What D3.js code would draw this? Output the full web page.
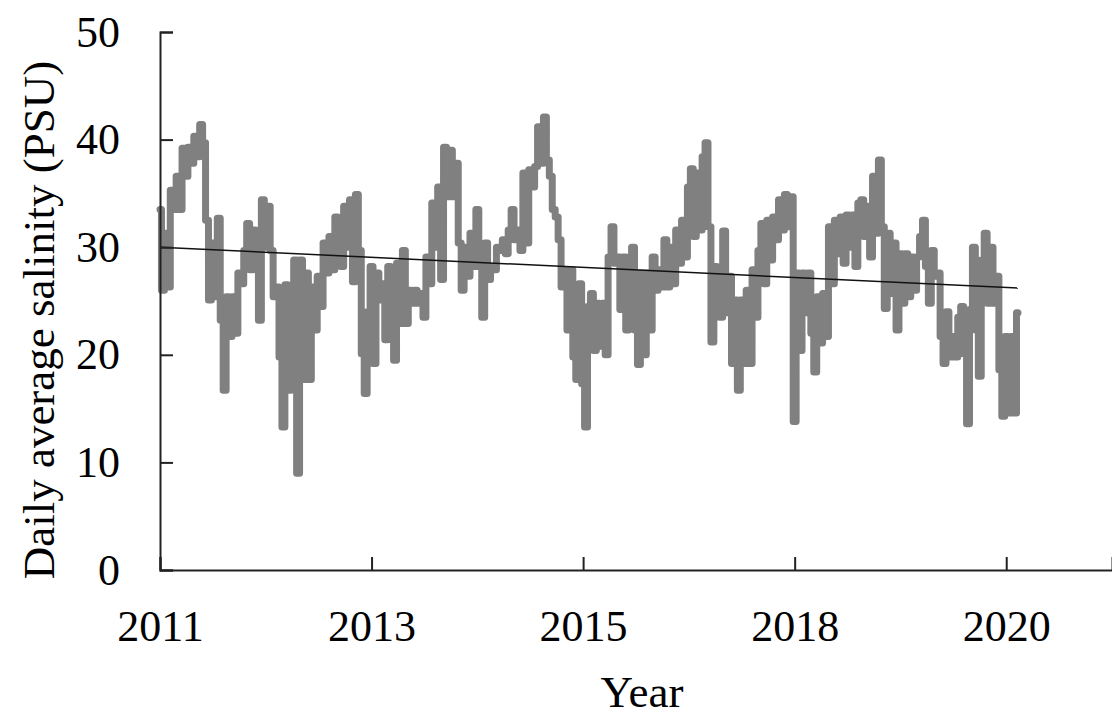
<!DOCTYPE html>
<html>
<head>
<meta charset="utf-8">
<script src="https://cdn.jsdelivr.net/npm/d3@7/dist/d3.min.js"></script>
<style>
  html, body { margin: 0; padding: 0; background: #fff; }
  svg { display: block; }
  text { font-family: "Liberation Serif", "Times New Roman", serif; fill: #000; }
</style>
</head>
<body>
<svg id="chart" width="1112" height="717"></svg>
<script>
// Tick positions (sample index) and their year labels
const tickIndex = [0, 72, 144, 216, 288];
const tickLabels = ["2011", "2013", "2015", "2018", "2020"];
const yTicks = [0, 10, 20, 30, 40, 50];

// Daily average salinity (PSU), sampled along the record
const salinity = [
  33.5, 26.0, 31.3, 26.3, 35.3, 33.5, 36.6, 33.5, 39.2, 36.6,
  39.3, 37.8, 40.3, 38.4, 41.4, 39.7, 32.5, 25.1, 30.4, 25.4,
  32.7, 23.2, 16.7, 25.4, 21.7, 25.4, 22.0, 27.6, 26.6, 29.7,
  32.2, 27.9, 31.6, 28.5, 23.2, 34.4, 30.0, 33.8, 29.7, 25.4,
  26.3, 19.8, 13.3, 26.5, 16.7, 26.0, 28.8, 9.0, 28.8, 17.7,
  27.6, 17.7, 26.3, 22.3, 27.3, 24.5, 30.4, 27.6, 31.0, 27.9,
  32.8, 29.4, 28.2, 33.8, 30.0, 34.4, 26.8, 34.9, 29.7, 20.1,
  16.4, 24.0, 28.2, 19.2, 27.6, 25.1, 26.6, 21.4, 28.2, 22.0,
  19.5, 28.5, 22.9, 29.7, 22.9, 26.0, 24.8, 26.0, 24.8, 25.7,
  23.5, 29.1, 26.6, 34.1, 30.0, 35.6, 27.0, 39.3, 34.7, 39.0,
  34.7, 37.8, 30.4, 26.0, 30.0, 27.3, 31.3, 28.2, 33.5, 28.2,
  23.5, 30.4, 27.0, 28.2, 27.9, 30.0, 29.7, 30.7, 29.4, 31.6,
  33.5, 30.7, 31.6, 29.7, 36.9, 30.4, 37.2, 35.6, 37.5, 41.2,
  37.8, 42.1, 38.1, 36.6, 33.5, 32.8, 30.7, 26.3, 27.9, 22.3,
  27.9, 19.8, 17.7, 26.6, 17.3, 13.3, 24.5, 25.7, 20.4, 24.8,
  20.8, 24.8, 20.0, 29.1, 31.9, 28.5, 29.1, 24.2, 29.1, 22.3,
  29.1, 30.0, 22.3, 19.1, 27.6, 20.0, 27.6, 22.3, 29.1, 26.0,
  27.9, 26.3, 30.7, 26.3, 30.0, 26.6, 31.6, 28.5, 32.5, 29.1,
  35.6, 37.3, 31.0, 36.9, 31.6, 38.4, 39.7, 31.9, 21.2, 28.2,
  26.6, 23.5, 31.5, 23.9, 27.3, 19.2, 25.1, 16.7, 25.1, 19.2,
  26.0, 19.2, 27.9, 23.5, 29.7, 32.2, 26.6, 32.5, 28.8, 32.8,
  30.7, 34.4, 31.6, 34.9, 31.9, 34.7, 13.8, 27.6, 20.4, 27.6,
  23.9, 27.6, 22.0, 18.4, 25.4, 21.1, 25.7, 21.7, 31.9, 26.6,
  32.5, 29.4, 32.8, 28.5, 33.0, 30.0, 33.0, 28.2, 34.1, 34.4,
  31.0, 33.8, 29.1, 36.6, 31.3, 38.1, 31.9, 24.3, 31.3, 25.7,
  30.4, 22.3, 29.4, 24.8, 29.4, 25.4, 29.1, 26.0, 29.1, 31.0,
  32.5, 28.2, 24.8, 29.7, 27.3, 27.6, 21.7, 19.2, 24.0, 19.8,
  21.7, 19.8, 23.5, 24.5, 20.1, 13.6, 24.2, 30.0, 22.3, 18.0,
  28.8, 31.3, 24.8, 30.0, 24.8, 27.3, 18.6, 14.3, 21.7, 14.6,
  21.7, 14.6, 23.9
];

// Linear trend: value at the first and the last sample
const trendEnds = [30.0, 26.2];

const svg = d3.select("#chart");
const plotLeft = 160, plotRight = 1112, plotTop = 32, plotBottom = 570;

const x = d3.scaleLinear().domain([0, 324]).range([plotLeft, plotRight]);
const y = d3.scaleLinear().domain([0, 50]).range([plotBottom, plotTop]);

// Salinity series, drawn as daily steps
const line = d3.line()
  .x((d, i) => x(i))
  .y(d => y(d))
  .curve(d3.curveStep);

svg.append("path")
  .datum(salinity)
  .attr("d", line)
  .attr("fill", "none")
  .attr("stroke", "#808080")
  .attr("stroke-width", 7)
  .attr("stroke-linejoin", "round")
  .attr("stroke-linecap", "round");

// Trend line
const lastIndex = salinity.length - 1;
svg.append("line")
  .attr("x1", x(0)).attr("y1", y(trendEnds[0]))
  .attr("x2", x(lastIndex)).attr("y2", y(trendEnds[1]))
  .attr("stroke", "#111")
  .attr("stroke-width", 1.5);

// Axes
const yAxis = d3.axisLeft(y)
  .tickValues(yTicks)
  .tickFormat(d3.format("d"))
  .tickSize(-13)
  .tickPadding(40);

const xAxis = d3.axisBottom(x)
  .tickValues(tickIndex)
  .tickFormat((d, i) => tickLabels[i])
  .tickSize(-13)
  .tickPadding(40);

const gy = svg.append("g")
  .attr("transform", `translate(${plotLeft},0)`)
  .call(yAxis);

const gx = svg.append("g")
  .attr("transform", `translate(0,${plotBottom})`)
  .call(xAxis);

[gx, gy].forEach(g => {
  g.select(".domain").attr("stroke", "#222").attr("stroke-width", 2);
  g.selectAll(".tick line").attr("stroke", "#222").attr("stroke-width", 2);
  g.selectAll(".tick text")
    .attr("font-family", "Liberation Serif, Times New Roman, serif")
    .attr("font-size", 44)
    .attr("fill", "#000");
});

// Axis titles
svg.append("text")
  .attr("x", 642)
  .attr("y", 707)
  .attr("text-anchor", "middle")
  .attr("font-size", 45)
  .text("Year");

svg.append("text")
  .attr("transform", "translate(54,320) rotate(-90)")
  .attr("text-anchor", "middle")
  .attr("font-size", 45)
  .text("Daily average salinity (PSU)");
</script>
</body>
</html>
